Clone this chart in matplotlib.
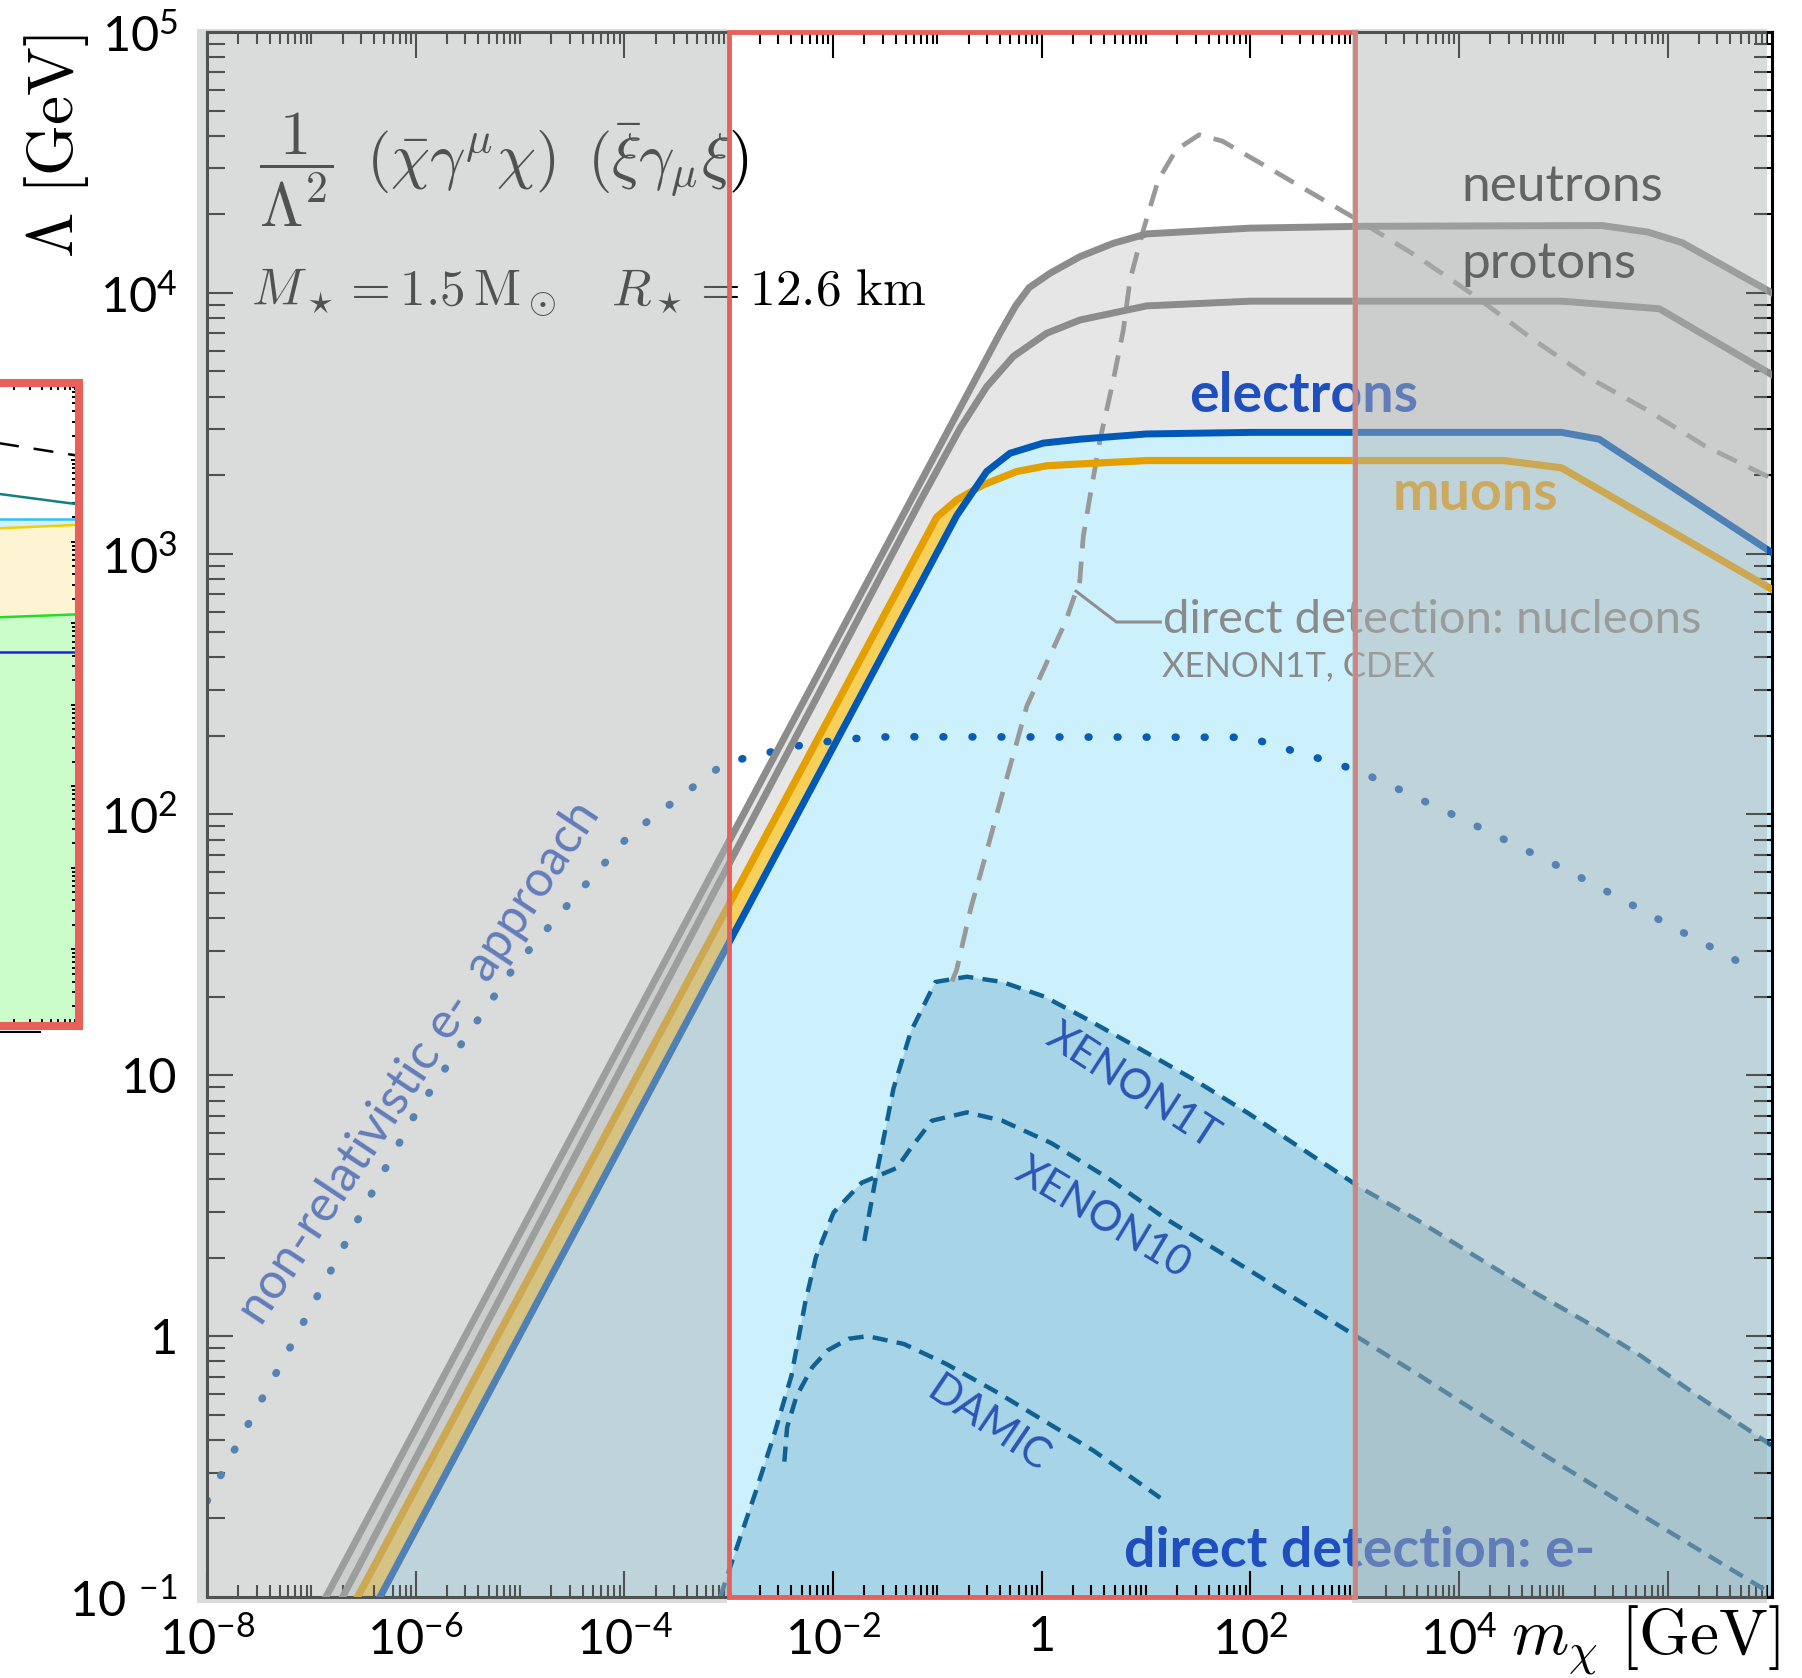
import numpy as np
import matplotlib
matplotlib.use('Agg')
import matplotlib.pyplot as plt
from matplotlib.patches import Rectangle
from matplotlib.lines import Line2D
from matplotlib.transforms import blended_transform_factory
from matplotlib.ticker import FixedLocator, LogLocator, NullFormatter

plt.rcParams['font.family'] = ['Lato', 'DejaVu Sans']

# all curves are log10(m_chi / GeV) vs log10(Lambda / GeV)
neutrons_logm = [-6.86, -0.40, -0.25, -0.12, 0.08, 0.368, 0.687, 1.007, 1.997, 3.053, 5.369, 5.81, 6.14, 7.0]
neutrons_logL = [-1.0, 3.845, 3.95, 4.02, 4.075, 4.139, 4.19, 4.226, 4.248, 4.255, 4.258, 4.233, 4.192, 4.0]

protons_logm = [-6.70, -1.166, -0.783, -0.527, -0.272, 0.048, 0.368, 1.007, 1.997, 4.983, 5.92, 7.0]
protons_logL = [-1.0, 3.2, 3.48, 3.64, 3.756, 3.845, 3.896, 3.95, 3.968, 3.968, 3.939, 3.686]

electrons_logm = [-6.342, -0.814, -0.527, -0.303, 0.016, 0.368, 1.007, 2.006, 4.983, 5.343, 7.0]
electrons_logL = [-1.0, 3.146, 3.315, 3.385, 3.424, 3.439, 3.459, 3.465, 3.465, 3.439, 3.004]

muons_logm = [-6.557, -1.006, -0.814, -0.559, -0.239, 0.048, 0.368, 1.007, 4.43, 4.983, 7.0]
muons_logL = [-1.0, 3.14, 3.206, 3.264, 3.315, 3.337, 3.344, 3.357, 3.357, 3.329, 2.863]

# direct detection on nucleons (XENON1T, CDEX)
dd_nuc_logm = [-0.86, -0.816, -0.681, -0.547, -0.378, -0.244, -0.142, 0.025, 0.228, 0.33, 0.363,
               0.399, 0.463, 0.559, 0.687, 0.783, 0.847, 0.975, 1.118, 1.289, 1.509, 1.73, 2.171,
               2.612, 3.053, 3.604, 4.156, 4.707, 5.259, 5.81, 6.361, 7.0]
dd_nuc_logL = [1.36, 1.403, 1.638, 1.829, 2.078, 2.269, 2.416, 2.562, 2.738, 2.856, 2.885,
               3.066, 3.219, 3.436, 3.666, 3.858, 4.05, 4.242, 4.433, 4.548, 4.606, 4.582, 4.48,
               4.377, 4.274, 4.138, 3.987, 3.822, 3.672, 3.549, 3.412, 3.288]
leader_logm = [0.33, 0.716, 1.137]
leader_logL = [2.856, 2.738, 2.738]

# non-relativistic electron approach (dotted)
nonrel_logm = [-8.0, -7.608, -7.202, -6.804, -6.41, -6.004, -5.538, -5.058, -4.51, -3.946, -3.501,
               -3.047, -2.782, -2.504, -2.234, -1.67, -1.388, 1.979, 2.261, 2.532, 2.8, 3.057,
               3.326, 3.582, 4.081, 4.593, 5.098, 5.596, 6.088, 6.593, 6.829]
nonrel_logL = [-0.632, -0.34, -0.042, 0.258, 0.556, 0.852, 1.135, 1.413, 1.669, 1.923, 2.057,
               2.194, 2.223, 2.248, 2.272, 2.296, 2.298, 2.296, 2.262, 2.229, 2.199, 2.163,
               2.115, 2.067, 1.973, 1.873, 1.773, 1.667, 1.56, 1.455, 1.4]

# direct detection on electrons
xenon1t_logm = [-1.70, -1.59, -1.42, -1.254, -1.018, -0.716, -0.378, 0.025, 0.43, 0.9, 1.44, 1.979,
                2.518, 3.057, 3.596, 4.135, 4.674, 5.213, 5.752, 6.291, 7.0]
xenon1t_logL = [0.365, 0.607, 0.95, 1.168, 1.358, 1.378, 1.358, 1.302, 1.216, 1.111, 0.988, 0.855,
                0.712, 0.569, 0.446, 0.312, 0.179, 0.056, -0.078, -0.23, -0.42]

xenon10_logm = [-3.08, -2.99, -2.736, -2.568, -2.4, -2.265, -2.164, -1.995, -1.726, -1.388, -1.254,
                -1.052, -0.716, -0.378, 0.093, 0.632, 1.171, 1.71, 2.248, 2.787, 3.596, 4.674,
                5.752, 6.93, 7.0]
xenon10_logL = [-1.0, -0.89, -0.591, -0.382, -0.154, 0.131, 0.303, 0.474, 0.588, 0.645, 0.721,
                0.826, 0.858, 0.826, 0.74, 0.607, 0.455, 0.322, 0.189, 0.056, -0.144, -0.42,
                -0.686, -0.972, -0.99]

damic_logm = [-2.466, -2.44, -2.35, -2.2, -2.05, -1.85, -1.668, -1.321, -0.917, -0.446, 0.025, 0.497, 1.137]
damic_logL = [-0.481, -0.35, -0.23, -0.12, -0.054, -0.01, 0.0, -0.03, -0.106, -0.211, -0.325, -0.439, -0.62]

# part of the neighbouring panel that is cut off at the left edge
inset_logm = [5.9, 7.0]
inset_dashed_logL = [4.255, 4.056]
inset_teal_logL = [3.625, 3.46]
inset_lightblue_logL = [3.287, 3.287]
inset_yellow_logL = [3.155, 3.21]
inset_green_logL = [2.065, 2.112]
inset_blue_logL = [1.644, 1.644]

x_tick_exps = [-8, -6, -4, -2, 0, 2, 4, 6]
x_tick_labels = [r'$\mathregular{10^{-8}}$', r'$\mathregular{10^{-6}}$', r'$\mathregular{10^{-4}}$',
                 r'$\mathregular{10^{-2}}$', '1', r'$\mathregular{10^{2}}$', r'$\mathregular{10^{4}}$', '']
y_tick_exps = [-1, 0, 1, 2, 3, 4, 5]
y_tick_labels = [r'$\mathregular{10\;{}^{-1}}$', '1', '10', r'$\mathregular{10^{2}}$',
                 r'$\mathregular{10^{3}}$', r'$\mathregular{10^{4}}$', r'$\mathregular{10^{5}}$']


def lin(a):
    """log10 values back to linear."""
    return 10.0 ** np.asarray(a, dtype=float)


def band(ax, xa, ya, xb, yb, color, z):
    """Fill the polygon running along curve a and back along curve b."""
    xs = np.concatenate([xa, xb[::-1]])
    ys = np.concatenate([ya, yb[::-1]])
    ax.fill(lin(xs), lin(ys), color=color, lw=0, zorder=z)


fig = plt.figure(figsize=(18.02, 16.78), dpi=100)
W, H = 1802.0, 1678.0
ax = fig.add_axes([207 / W, 1 - 1597 / H, 1565 / W, 1565 / H])
ax.set_xscale('log')
ax.set_yscale('log')
ax.set_xlim(1e-8, 1e7)
ax.set_ylim(1e-1, 1e5)

# filled regions
band(ax, np.array(neutrons_logm), np.array(neutrons_logL),
     np.array(electrons_logm), np.array(electrons_logL), '#e6e6e6', 1.0)
band(ax, np.array(electrons_logm), np.array(electrons_logL),
     np.array([7.0]), np.array([-1.0]), '#cdf1fc', 1.1)
# yellow wedge where the muon bound lies above the electron bound
grid = np.linspace(-6.6, -0.4, 600)
mu_g = np.interp(grid, muons_logm, muons_logL)
el_g = np.interp(grid, electrons_logm, electrons_logL)
ax.fill_between(lin(grid), lin(mu_g), lin(el_g), where=mu_g > el_g, interpolate=True,
                color='#f7d05c', lw=0, zorder=1.2)
dd_env_m = np.concatenate([xenon10_logm[:9], xenon1t_logm[1:]])
dd_env_L = np.concatenate([xenon10_logL[:9], xenon1t_logL[1:]])
band(ax, dd_env_m, dd_env_L, np.array([7.0]), np.array([-1.0]), '#a7d4e6', 1.3)

# direct detection curves
dd_col = '#0f6194'
for xm, yl in [(xenon1t_logm, xenon1t_logL), (xenon10_logm, xenon10_logL), (damic_logm, damic_logL)]:
    ax.plot(lin(xm), lin(yl), color=dd_col, lw=3.2, dashes=(3.4, 2.1), zorder=2)

ax.plot(lin(dd_nuc_logm), lin(dd_nuc_logL), color='#999999', lw=3.4, dashes=(4.6, 2.8), zorder=2.1)
ax.plot(lin(leader_logm), lin(leader_logL), color='#8e8e8e', lw=2.2, zorder=2.1)

ax.plot(lin(nonrel_logm), lin(nonrel_logL), color='#0a5cb5', lw=5.5, dashes=(0.1, 3.7),
        dash_capstyle='round', zorder=2.2)

ax.plot(lin(neutrons_logm), lin(neutrons_logL), color='#8c8c8c', lw=5.0, zorder=3)
ax.plot(lin(protons_logm), lin(protons_logL), color='#8c8c8c', lw=5.0, zorder=3)
ax.plot(lin(muons_logm), lin(muons_logL), color='#e3a000', lw=5.2, zorder=3.1)
ax.plot(lin(electrons_logm), lin(electrons_logL), color='#0058b8', lw=5.0, zorder=3.2)

# labels on the curves
ax.text(lin(4.026), lin(4.405), 'neutrons', fontsize=37, color='#222222', va='center', zorder=5)
ax.text(lin(4.026), lin(4.11), 'protons', fontsize=37, color='#222222', va='center', zorder=5)
ax.text(lin(1.416), lin(3.603), 'electrons', fontsize=40, fontweight='bold', color='#1f4fbf',
        va='center', zorder=5)
ax.text(lin(3.366), lin(3.229), 'muons', fontsize=40, fontweight='bold', color='#e5a21a',
        va='center', zorder=5)
ax.text(lin(0.79), lin(-0.825), 'direct detection: e-', fontsize=40, fontweight='bold',
        color='#1f4fbf', va='center', zorder=5)
ax.text(lin(1.16), lin(2.745), 'direct detection: nucleons', fontsize=34,
        color='#8a8a8a', va='center', zorder=5)
ax.text(lin(1.15), lin(2.568), 'XENON1T, CDEX', fontsize=25, color='#8a8a8a', va='center', zorder=5)
ax.text(lin(0.866), lin(0.959), 'XENON1T', fontsize=30, color='#2c55b5',
        rotation=-33, rotation_mode='anchor', ha='center', va='center', zorder=5)
ax.text(lin(0.59), lin(0.452), 'XENON10', fontsize=30, color='#2c55b5',
        rotation=-31, rotation_mode='anchor', ha='center', va='center', zorder=5)
ax.text(lin(-0.511), lin(-0.34), 'DAMIC', fontsize=30, color='#2c55b5',
        rotation=-34, rotation_mode='anchor', ha='center', va='center', zorder=5)
ax.text(lin(-5.963), lin(1.048), 'non-relativistic e-  approach', fontsize=36,
        color='#2050c0', rotation=56.5, rotation_mode='anchor', ha='center', va='center', zorder=5)

ax.text(0.033, 0.912,
        r'$\dfrac{1}{\Lambda^2}\ \,(\bar{\chi}\gamma^\mu\chi)\ \,(\bar{\xi}\gamma_\mu\xi)$',
        transform=ax.transAxes, fontsize=45, math_fontfamily='cm', va='center', zorder=5)
ax.text(0.028, 0.833, r'$M_\star = 1.5\,\mathrm{M}_\odot \quad R_\star = 12.6\ \mathrm{km}$',
        transform=ax.transAxes, fontsize=37, math_fontfamily='cm', va='center', zorder=5)

# grey shading outside the region of interest and the red frame
bt = blended_transform_factory(ax.transData, ax.transAxes)
ax.add_patch(Rectangle((lin(-8.096), -0.004), lin(-3.02) - lin(-8.096), 1.006, transform=bt,
                       color='#afb2b2', alpha=0.46, lw=0, clip_on=False, zorder=8))
ax.add_patch(Rectangle((1e-3, 0.0), 1e3 - 1e-3, 1.0, transform=bt, fill=False,
                       edgecolor='#e8605a', lw=3.5, clip_on=False, zorder=9))
ax.add_patch(Rectangle((lin(2.975), -0.004), lin(6.952) - lin(2.975), 1.006, transform=bt,
                       color='#afb2b2', alpha=0.46, lw=0, clip_on=False, zorder=10))

# axes, ticks
for sp in ax.spines.values():
    sp.set_linewidth(2.2)
ax.xaxis.set_major_locator(FixedLocator(lin(x_tick_exps)))
ax.xaxis.set_minor_locator(LogLocator(base=10, subs=np.arange(1, 10), numticks=100))
ax.xaxis.set_minor_formatter(NullFormatter())
ax.set_xticks(lin(x_tick_exps), x_tick_labels, fontsize=35)
ax.yaxis.set_minor_locator(LogLocator(base=10, subs=np.arange(2, 10), numticks=100))
ax.yaxis.set_minor_formatter(NullFormatter())
ax.set_yticks(lin(y_tick_exps), y_tick_labels, fontsize=35)
ax.tick_params(which='both', direction='in', top=True, right=True, color='k', width=1.5)
ax.tick_params(which='major', length=18.7)
ax.tick_params(axis='x', which='minor', length=8.6)
ax.tick_params(axis='y', which='minor', length=13)
ax.tick_params(axis='x', which='major', pad=13)
ax.tick_params(axis='y', which='major', pad=21)

ax.text(1.005, -0.028, r'$m_\chi\ [\mathrm{GeV}]$', transform=ax.transAxes, fontsize=47,
        math_fontfamily='cm', ha='right', va='center')
ax.text(-0.096, 0.927, r'$\Lambda\ [\mathrm{GeV}]$', transform=ax.transAxes, fontsize=47,
        math_fontfamily='cm', rotation=90, ha='center', va='center')

# cut-off neighbouring panel
axi = fig.add_axes([-293 / W, 1 - 1025.5 / H, 372 / W, 643 / H])
axi.set_xscale('log')
axi.set_yscale('log')
axi.set_xlim(1e3, 1e7)
axi.set_ylim(lin(-2.933), lin(4.956))
im = lin(inset_logm)
axi.fill_between(im, lin(inset_green_logL), lin(-2.933), color='#cbfdcb', lw=0)
axi.fill_between(im, lin(inset_yellow_logL), lin(inset_green_logL), color='#fdf4d4', lw=0)
axi.fill_between(im, lin(inset_lightblue_logL), lin(inset_yellow_logL), color='#d3f0fb', lw=0)
axi.plot(im, lin(inset_dashed_logL), color='k', lw=1.8, dashes=(8, 6))
axi.plot(im, lin(inset_teal_logL), color='#108080', lw=1.8)
axi.plot(im, lin(inset_lightblue_logL), color='#30c0f0', lw=1.8)
axi.plot(im, lin(inset_yellow_logL), color='#f0d000', lw=1.8)
axi.plot(im, lin(inset_green_logL), color='#22dd22', lw=1.8)
axi.plot(im, lin(inset_blue_logL), color='#2222dd', lw=1.8)
for sp in axi.spines.values():
    sp.set_color('#e8605a')
    sp.set_linewidth(5.8)
axi.yaxis.set_minor_locator(LogLocator(base=10, subs=np.arange(2, 10), numticks=100))
axi.xaxis.set_minor_locator(LogLocator(base=10, subs=np.arange(2, 10), numticks=100))
axi.tick_params(which='both', direction='in', top=True, right=True, color='k', width=1.4,
                labelbottom=False, labelleft=False)
axi.tick_params(which='major', length=6)
axi.tick_params(which='minor', length=4.8)
fig.add_artist(Line2D([0, 40 / W], [1 - 1032 / H, 1 - 1032 / H], color='k', lw=1.5))

fig.savefig('out.png', dpi=100)
